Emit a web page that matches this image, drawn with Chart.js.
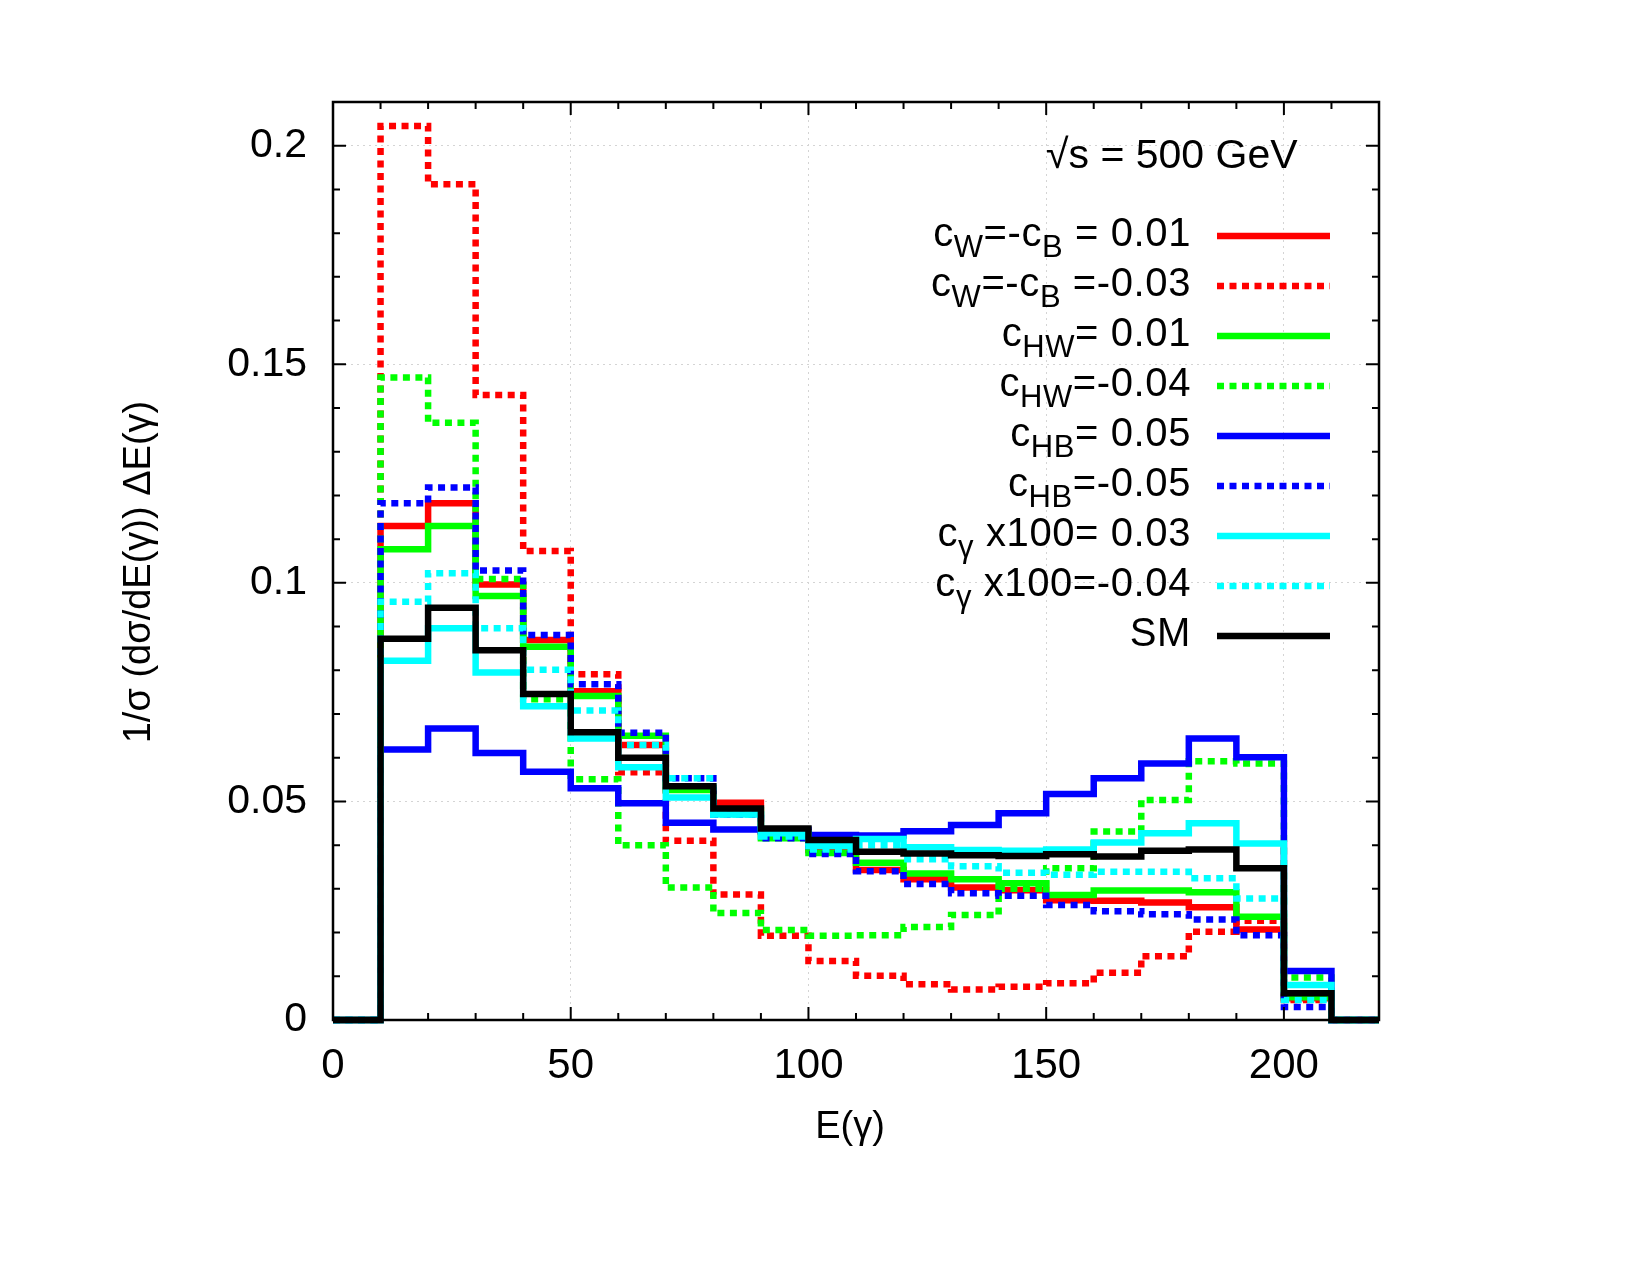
<!DOCTYPE html>
<html>
<head>
<meta charset="utf-8">
<script src="https://cdn.jsdelivr.net/npm/chart.js@4.4.0/dist/chart.umd.min.js"></script>
<style>
  html,body{margin:0;padding:0;background:#fff;}
  canvas{display:block;}
</style>
</head>
<body>
<canvas id="c" width="1650" height="1275"></canvas>
<script>
// Photon energy spectrum, sqrt(s) = 500 GeV

const FONT = '"Liberation Sans", Arial, Helvetica, sans-serif';

// bin edges (GeV); value i holds from EDGES[i] to EDGES[i+1]
const EDGES = [0,10,20,30,40,50,60,70,80,90,100,110,120,130,140,150,160,170,180,190,200,210,220];

const CW_P001  = [0,0.1130,0.1182,0.0996,0.0869,0.0752,0.0629,0.0530,0.0497,0.0430,0.0389,0.0343,0.0322,0.0303,0.0297,0.0274,0.0273,0.0269,0.0258,0.0207,0.0050,0,0];
const CW_M003  = [0,0.2045,0.1912,0.1430,0.1073,0.0791,0.0567,0.0410,0.0287,0.0193,0.0135,0.0101,0.0082,0.0070,0.0076,0.0084,0.0108,0.0146,0.0202,0.0227,0.0046,0,0];
const CHW_P001 = [0,0.1077,0.1130,0.0970,0.0854,0.0741,0.0650,0.0526,0.0480,0.0416,0.0382,0.0360,0.0335,0.0322,0.0313,0.0286,0.0296,0.0296,0.0292,0.0236,0.0052,0,0];
const CHW_M004 = [0,0.1470,0.1366,0.1009,0.0734,0.0551,0.0400,0.0303,0.0245,0.0206,0.0193,0.0194,0.0213,0.0240,0.0300,0.0347,0.0431,0.0503,0.0592,0.0587,0.0097,0,0];
const CHB_P005 = [0,0.0619,0.0667,0.0611,0.0568,0.0530,0.0496,0.0451,0.0436,0.0435,0.0423,0.0422,0.0432,0.0446,0.0473,0.0517,0.0553,0.0587,0.0644,0.0601,0.0112,0,0];
const CHB_M005 = [0,0.1182,0.1218,0.1028,0.0881,0.0768,0.0657,0.0553,0.0470,0.0416,0.0380,0.0340,0.0311,0.0290,0.0284,0.0263,0.0249,0.0242,0.0230,0.0194,0.0030,0,0];
const CG_P003  = [0,0.0822,0.0896,0.0795,0.0718,0.0644,0.0578,0.0509,0.0470,0.0427,0.0398,0.0414,0.0395,0.0389,0.0387,0.0390,0.0406,0.0427,0.0450,0.0404,0.0080,0,0];
const CG_M004  = [0,0.0957,0.1022,0.0896,0.0801,0.0708,0.0629,0.0553,0.0470,0.0420,0.0390,0.0400,0.0368,0.0352,0.0337,0.0332,0.0339,0.0339,0.0324,0.0278,0.0046,0,0];
const SM       = [0,0.0872,0.0943,0.0846,0.0746,0.0658,0.0600,0.0535,0.0484,0.0438,0.0412,0.0385,0.0381,0.0377,0.0375,0.0379,0.0374,0.0387,0.0390,0.0347,0.0061,0,0];

const SERIES_DATA   = [CW_P001, CW_M003, CHW_P001, CHW_M004, CHB_P005, CHB_M005, CG_P003, CG_M004, SM];
const SERIES_COLORS = ['#ff0000','#ff0000','#00ff00','#00ff00','#0000ff','#0000ff','#00ffff','#00ffff','#000000'];
const SERIES_DASHED = [false,true,false,true,false,true,false,true,false];

// legend labels: [text, isSubscript]
const LEGEND_LABELS = [
  [['c',0],['W',1],['=-c',0],['B',1],[' = 0.01',0]],
  [['c',0],['W',1],['=-c',0],['B',1],[' =-0.03',0]],
  [['c',0],['HW',1],['= 0.01',0]],
  [['c',0],['HW',1],['=-0.04',0]],
  [['c',0],['HB',1],['= 0.05',0]],
  [['c',0],['HB',1],['=-0.05',0]],
  [['c',0],['\u03b3',1],[' x100= 0.03',0]],
  [['c',0],['\u03b3',1],[' x100=-0.04',0]],
  [['SM',0]]
];

const X_MIN = 0, X_MAX = 220, Y_MIN = 0, Y_MAX = 0.21;
const DASH = [7,5.5];

const datasets = SERIES_DATA.map((vals, i) => ({
  data: vals.map((v, k) => ({x: EDGES[k], y: v})),
  borderColor: SERIES_COLORS[i],
  borderWidth: 6.5,
  borderDash: SERIES_DASHED[i] ? DASH : [],
  borderCapStyle: 'butt',
  borderJoinStyle: 'miter',
  stepped: 'before',
  pointRadius: 0,
  fill: false,
  clip: 6,
  order: SERIES_DATA.length - 1 - i
}));

// frame, inner ticks, legend, labels
const decorPlugin = {
  id: 'decor',
  afterDraw(chart){
    const c = chart.ctx;
    const a = chart.chartArea;
    const xs = chart.scales.x, ys = chart.scales.y;
    c.save();
    c.strokeStyle = '#000';
    c.lineWidth = 2;
    // ticks on all four sides, pointing inward
    c.beginPath();
    for(let v = X_MIN; v <= X_MAX; v += 10){
      const px = xs.getPixelForValue(v);
      const len = (v % 50 === 0) ? 13 : 7;
      c.moveTo(px, a.bottom); c.lineTo(px, a.bottom - len);
      c.moveTo(px, a.top); c.lineTo(px, a.top + len);
    }
    for(let k = 0; k <= 21; k++){
      const py = ys.getPixelForValue(k / 100);
      const len = (k % 5 === 0) ? 13 : 7;
      c.moveTo(a.left, py); c.lineTo(a.left + len, py);
      c.moveTo(a.right, py); c.lineTo(a.right - len, py);
    }
    c.stroke();
    c.lineWidth = 2.5;
    c.strokeRect(a.left, a.top, a.right - a.left, a.bottom - a.top);

    // sqrt(s) label
    c.fillStyle = '#000';
    c.textBaseline = 'alphabetic';
    c.textAlign = 'left';
    c.font = '41px ' + FONT;
    c.fillText('\u221as = 500 GeV', 1046, 168);

    // legend
    const mainF = '40px ' + FONT, subF = '31px ' + FONT;
    const textRight = 1191, lineL = 1217, lineR = 1330;
    if('letterSpacing' in c) c.letterSpacing = '0.6px';
    LEGEND_LABELS.forEach((parts, i) => {
      const yc = 236 + i * 50;
      let w = 0;
      parts.forEach(p => { c.font = p[1] ? subF : mainF; w += c.measureText(p[0]).width; });
      let x = textRight - w;
      parts.forEach(p => {
        c.font = p[1] ? subF : mainF;
        c.fillText(p[0], x, yc + 10 + (p[1] ? 11 : 0));
        x += c.measureText(p[0]).width;
      });
      c.strokeStyle = SERIES_COLORS[i];
      c.lineWidth = 6.5;
      c.setLineDash(SERIES_DASHED[i] ? DASH : []);
      c.beginPath();
      c.moveTo(lineL, yc); c.lineTo(lineR, yc);
      c.stroke();
      c.setLineDash([]);
    });
    if('letterSpacing' in c) c.letterSpacing = '0px';

    // axis titles
    c.font = '38px ' + FONT;
    c.textAlign = 'center';
    c.textBaseline = 'middle';
    c.fillText('E(\u03b3)', 850, 1128);
    c.save();
    c.translate(140, 572);
    c.rotate(-Math.PI / 2);
    c.fillText('1/\u03c3 (d\u03c3/dE(\u03b3)) \u0394E(\u03b3)', 0, 0);
    c.restore();
    c.restore();
  }
};

new Chart(document.getElementById('c'), {
  type: 'line',
  data: { datasets },
  options: {
    responsive: false,
    animation: false,
    devicePixelRatio: 1,
    layout: { padding: { left: 0, right: 271, top: 102, bottom: 0 } },
    plugins: { legend: { display: false }, tooltip: { enabled: false } },
    scales: {
      x: {
        type: 'linear', min: X_MIN, max: X_MAX,
        ticks: { stepSize: 50, includeBounds: false, padding: 21, maxRotation: 0, color: '#000', font: { size: 42, family: FONT } },
        grid: { color: '#d4d4d4', lineWidth: 1, drawTicks: false },
        border: { display: false, dash: [2,4] },
        afterFit: s => { s.height = 255; }
      },
      y: {
        type: 'linear', min: Y_MIN, max: Y_MAX,
        ticks: { stepSize: 0.05, includeBounds: false, padding: 26, color: '#000', font: { size: 41, family: FONT },
          callback: v => String(+v.toFixed(2)) },
        grid: { color: '#d4d4d4', lineWidth: 1, drawTicks: false },
        border: { display: false, dash: [2,4] },
        afterFit: s => { s.width = 333; }
      }
    }
  },
  plugins: [decorPlugin]
});
</script>
</body>
</html>
